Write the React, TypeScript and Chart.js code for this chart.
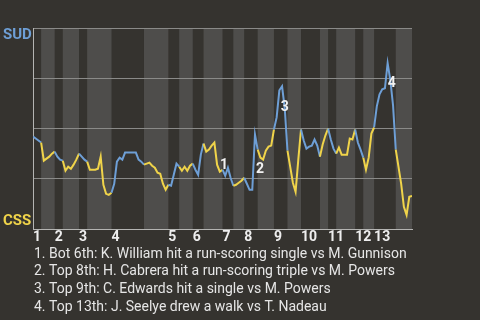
import React, { useEffect, useRef } from "react";
import { Chart, registerables } from "chart.js";

Chart.register(...registerables);

// ---------- data ----------
const awayTeam = "SUD";
const homeTeam = "CSS";

const inningLabels = ["1", "2", "3", "4", "5", "6", "7", "8", "9", "10", "11", "12", "13"];

// plays per half-inning: top 1, bottom 1, top 2, ...
const halfInningPlays = [3, 5, 3, 6, 3, 9, 12, 9, 4, 5, 4, 7, 4, 4, 5, 6, 5, 5, 7, 3, 3, 7, 3, 4, 8, 6];

// SUD win probability: start value, then the value after each play
const winProbability = [
  0.46,
  0.45, 0.44, 0.43,
  0.34, 0.35, 0.36, 0.375, 0.385,
  0.36, 0.345, 0.34,
  0.29, 0.31, 0.3, 0.32, 0.345, 0.375,
  0.36, 0.345, 0.335,
  0.295, 0.295, 0.295, 0.3, 0.36, 0.22, 0.175, 0.17, 0.18,
  0.225, 0.335, 0.355, 0.345, 0.38, 0.38, 0.38, 0.38, 0.38, 0.345, 0.335, 0.32,
  0.325, 0.33, 0.315, 0.305, 0.28, 0.275, 0.225, 0.195, 0.22,
  0.215, 0.27, 0.325, 0.31,
  0.29, 0.31, 0.29, 0.315, 0.325,
  0.295, 0.27, 0.37, 0.425,
  0.385, 0.395, 0.415, 0.43, 0.32, 0.285, 0.295,
  0.265, 0.305, 0.255, 0.215,
  0.22, 0.23, 0.24, 0.255,
  0.225, 0.195, 0.195, 0.47, 0.395,
  0.355, 0.345, 0.39, 0.41, 0.415, 0.495,
  0.555, 0.69, 0.71, 0.6, 0.39,
  0.31, 0.23, 0.185, 0.345, 0.495,
  0.44, 0.4, 0.41, 0.415, 0.445, 0.415, 0.36,
  0.42, 0.465, 0.5,
  0.445, 0.4, 0.375,
  0.405, 0.37, 0.37, 0.37, 0.45, 0.445, 0.495,
  0.43, 0.395, 0.355,
  0.295, 0.355, 0.475, 0.505,
  0.61, 0.67, 0.695, 0.7, 0.825, 0.74, 0.615, 0.395,
  0.31, 0.225, 0.11, 0.07, 0.16, 0.165,
];

const yTicks = [0, 0.25, 0.5, 0.75, 1];

const noteMarkers = ["1", "2", "3", "4"];
const notePlays = [68, 82, 93, 132];
const notes = [
  "1. Bot 6th: K. William hit a run-scoring single vs M. Gunnison",
  "2. Top 8th: H. Cabrera hit a run-scoring triple vs M. Powers",
  "3. Top 9th: C. Edwards hit a single vs M. Powers",
  "4. Top 13th: J. Seelye drew a walk vs T. Nadeau",
];

// ---------- styles ----------
const BG = "#35332f";
const BAND = "#4e4d4b";
const GRID = "#8a8a88";
const AXIS = "#b4b4b2";
const BLUE = "#6e9fd6";
const YELLOW = "#f0d44a";
const TEXT = "#e6e6e6";
const FONT = "Roboto";
const markerOffsets = [
  [7, -0.5],
  [5, 33.5],
  [0, -2],
  [1.5, 2],
];

// ---------- derived ----------
const halfStarts: number[] = [];
{
  let acc = 0;
  for (const n of halfInningPlays) {
    halfStarts.push(acc);
    acc += n;
  }
}
const totalPlays = halfInningPlays.reduce((a, b) => a + b, 0);
const inningStarts = inningLabels.map((_, k) => halfStarts[2 * k]);
const playHalf: number[] = [0];
halfInningPlays.forEach((n, h) => {
  for (let i = 0; i < n; i++) playHalf.push(h);
});

export default function App() {
  const ref = useRef<HTMLCanvasElement | null>(null);

  useEffect(() => {
    if (!ref.current) return;

    const bands = {
      id: "bands",
      beforeDraw(chart: any) {
        const { ctx, chartArea, scales } = chart;
        ctx.save();
        ctx.fillStyle = BAND;
        halfInningPlays.forEach((n, h) => {
          if (h % 2 === 1) {
            const x0 = scales.x.getPixelForValue(halfStarts[h]);
            const x1 = scales.x.getPixelForValue(halfStarts[h] + n);
            ctx.fillRect(x0, chartArea.top, x1 - x0, chartArea.bottom - chartArea.top);
          }
        });
        ctx.restore();
      },
    };

    const texts = {
      id: "texts",
      afterDraw(chart: any) {
        const { ctx, scales } = chart;
        ctx.save();
        ctx.textAlign = "left";
        ctx.textBaseline = "alphabetic";
        ctx.font = `bold 15px ${FONT}`;
        ctx.fillStyle = BLUE;
        ctx.fillText(awayTeam, 3, 39);
        ctx.fillStyle = YELLOW;
        ctx.fillText(homeTeam, 3, 225);

        ctx.font = `bold 14px ${FONT}`;
        ctx.fillStyle = "#f2f2f2";
        ctx.textAlign = "center";
        noteMarkers.forEach((m, i) => {
          const idx = notePlays[i];
          const x = scales.x.getPixelForValue(idx) + markerOffsets[i][0];
          const y = scales.y.getPixelForValue(winProbability[idx]) + markerOffsets[i][1];
          ctx.fillText(m, x, y + 5);
        });

        ctx.textAlign = "left";
        ctx.font = `14px ${FONT}`;
        ctx.fillStyle = TEXT;
        notes.forEach((t, i) => {
          ctx.fillText(t, 34, 257.5 + i * 17.8);
        });
        ctx.restore();
      },
    };

    const chart = new Chart(ref.current, {
      type: "line",
      data: {
        datasets: [
          {
            data: winProbability.map((v, i) => ({ x: i, y: v })),
            borderColor: BLUE,
            borderWidth: 2,
            pointRadius: 0,
            tension: 0,
            fill: false,
            segment: {
              borderColor: (c: any) => (playHalf[c.p1DataIndex] % 2 === 0 ? BLUE : YELLOW),
            },
          },
        ],
      },
      options: {
        animation: false,
        responsive: false,
        maintainAspectRatio: false,
        layout: { padding: { left: 33, right: 68, top: 28, bottom: 71 } },
        plugins: { legend: { display: false }, tooltip: { enabled: false } },
        scales: {
          x: {
            type: "linear",
            min: 0,
            max: totalPlays,
            grid: { display: false, drawTicks: false },
            border: { display: true, color: AXIS, width: 1 },
            afterBuildTicks: (s: any) => {
              s.ticks = inningStarts.map((v) => ({ value: v }));
            },
            afterFit: (s: any) => {
              s.height = 20;
            },
            ticks: {
              autoSkip: false,
              maxRotation: 0,
              minRotation: 0,
              align: "start",
              padding: 0,
              color: "#eeeeee",
              font: { family: FONT, size: 14, weight: "bold" },
              callback: (v: any) => {
                const k = inningStarts.indexOf(Number(v));
                return k >= 0 ? inningLabels[k] : "";
              },
            },
          },
          y: {
            min: 0,
            max: 1,
            afterBuildTicks: (s: any) => {
              s.ticks = yTicks.map((v) => ({ value: v }));
            },
            afterFit: (s: any) => {
              s.width = 0;
            },
            grid: { color: GRID, drawTicks: false, lineWidth: 1 },
            border: { display: true, color: AXIS, width: 1 },
            ticks: { display: false },
          },
        },
      } as any,
      plugins: [bands, texts],
    });
    return () => chart.destroy();
  }, []);

  return (
    <div style={{ position: "fixed", left: 0, top: 0, width: 480, height: 320, background: BG }}>
      <canvas ref={ref} width={480} height={320} style={{ display: "block" }} />
    </div>
  );
}
